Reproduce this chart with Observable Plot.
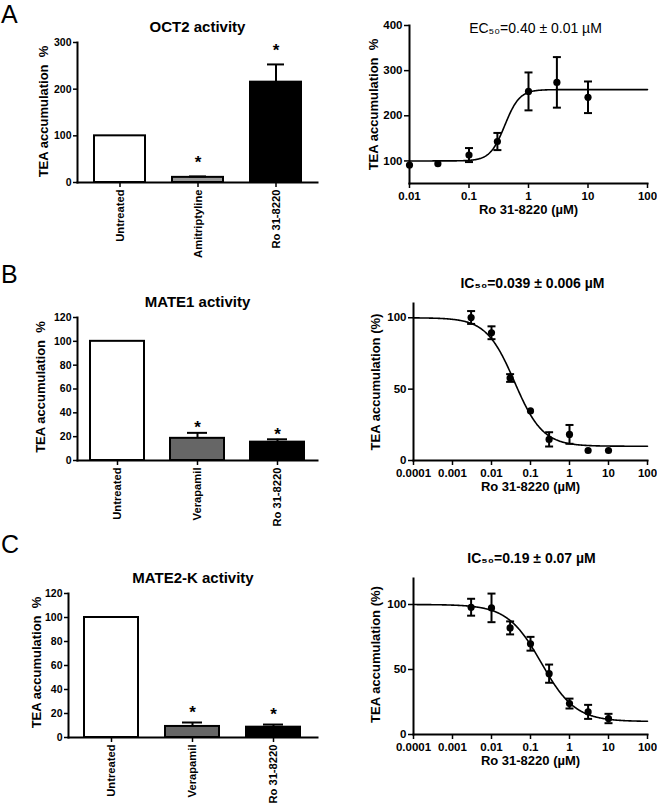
<!DOCTYPE html>
<html><head><meta charset="utf-8">
<script src="https://cdn.jsdelivr.net/npm/d3@7"></script>
<script src="https://cdn.jsdelivr.net/npm/@observablehq/plot@0.6"></script>
<style>
body{margin:0;background:#fff;}
#fig{position:relative;width:657px;height:804px;background:#fff;font-family:"Liberation Sans",Arial,Helvetica,sans-serif;overflow:hidden;}
.letter{position:absolute;font-size:25px;line-height:1;color:#000;font-family:"Liberation Sans",Arial,sans-serif;}
</style></head><body><div id="fig"></div>
<script>
// ---------- Data ----------
// Panel A bars: OCT2 activity
const barCatsA = ["Untreated", "Amitriptyline", "Ro 31-8220"];
const barValsA = [100, 11, 215];
const barErrsA = [0, 2, 38];
const barFillsA = ["#ffffff", "#9a9a9a", "#000000"];
const barStarsA = ["Amitriptyline", "Ro 31-8220"];
const barTicksA = [0, 100, 200, 300];

// Panel B bars: MATE1 activity
const barCatsB = ["Untreated", "Verapamil", "Ro 31-8220"];
const barValsB = [100, 18.6, 15.4];
const barErrsB = [0, 4.6, 2.4];
const barFillsB = ["#ffffff", "#666666", "#000000"];
const barStarsB = ["Verapamil", "Ro 31-8220"];
const barTicksB = [0, 20, 40, 60, 80, 100, 120];

// Panel C bars: MATE2-K activity
const barCatsC = ["Untreated", "Verapamil", "Ro 31-8220"];
const barValsC = [100, 9.2, 8.6];
const barErrsC = [0, 3.3, 2.2];
const barFillsC = ["#ffffff", "#666666", "#000000"];
const barStarsC = ["Verapamil", "Ro 31-8220"];
const barTicksC = [0, 20, 40, 60, 80, 100, 120];

// Concentration-response points (µM, mean, ±error)
const concA = [0.01, 0.03, 0.1, 0.3, 1, 3, 10];
const meanA = [91, 94, 113, 143, 254, 274, 241];
const errA  = [0, 0, 15.5, 19, 42, 56, 35];
const fitA  = [100, 258, 0.40, 3.5];   // bottom, top, EC50, Hill slope (fitted curve)

const concB = [0.003, 0.01, 0.03, 0.1, 0.3, 1, 3, 10];
const meanB = [100.2, 89.5, 57.8, 34.7, 14.8, 18.3, 7, 7];
const errB  = [4.5, 4.5, 2.7, 0, 5, 6.6, 0, 0];
const fitB  = [10, 100, 0.039, 1.2];

const concC = [0.003, 0.01, 0.03, 0.1, 0.3, 1, 3, 10];
const meanC = [97.9, 97.4, 82, 69.8, 46.8, 23.8, 17.4, 12.3];
const errC  = [6.5, 11, 5, 5.3, 7, 3.8, 5.4, 3.6];
const fitC  = [10, 100, 0.19, 1.0];

const logTicksA = [0.01, 0.1, 1, 10, 100];
const logTicksBC = [0.0001, 0.001, 0.01, 0.1, 1, 10, 100];

// ---------- Rendering ----------
const FONT = "'Liberation Sans', Arial, Helvetica, sans-serif";
const fig = document.getElementById("fig");
const baseStyle = {fontFamily: FONT, fontWeight: "bold", color: "#000", background: "transparent", overflow: "visible"};

function mount(el, left, top) {
  el.style.position = "absolute";
  el.style.left = left + "px";
  el.style.top = top + "px";
  fig.appendChild(el);
}
function letter(t, left, top) {
  const d = document.createElement("div");
  d.className = "letter"; d.textContent = t;
  d.style.left = left + "px"; d.style.top = top + "px";
  fig.appendChild(d);
}

function barPanel(c) {
  const rows = c.cats.map((cat, i) => ({cat, val: c.vals[i], err: c.errs[i], fill: c.fills[i]}));
  const errRows = rows.filter(d => d.err > 0);
  const starRows = rows.filter(d => c.stars.includes(d.cat));
  return Plot.plot({
    width: c.width, height: c.height,
    marginLeft: c.ml, marginRight: c.mr, marginTop: c.mt, marginBottom: c.mb,
    x: {type: "band", domain: c.cats, paddingInner: c.pi, paddingOuter: c.po},
    y: {domain: c.yDomain},
    color: {type: "identity"},
    style: baseStyle,
    marks: [
      Plot.barY(rows, {x: "cat", y: "val", fill: "fill", stroke: "#000", strokeWidth: 2}),
      Plot.ruleX(errRows, {x: "cat", y1: "val", y2: d => d.val + d.err, stroke: "#000", strokeWidth: 2}),
      Plot.tickY(errRows, {x: "cat", y: d => d.val + d.err, stroke: "#000", strokeWidth: 2, insetLeft: c.capInset, insetRight: c.capInset}),
      Plot.text(starRows, {x: "cat", y: d => d.val + d.err, text: () => "*", dy: c.starDy, fontSize: 17, fontWeight: "bold", fill: "#000"}),
      Plot.frame({anchor: "left", stroke: "#000", strokeWidth: 2}),
      Plot.frame({anchor: "bottom", stroke: "#000", strokeWidth: 2}),
      Plot.axisY({ticks: c.yTicks, tickSize: 4, tickPadding: 2, fontSize: 10.5, strokeWidth: 1.5, label: null}),
      Plot.axisX({tickRotate: -90, tickSize: 5, tickPadding: 2, fontSize: 11.2, strokeWidth: 1.5, label: null}),
      Plot.text([c.title], {text: d => d, frameAnchor: "top", textAnchor: "middle", dy: -21, fontSize: 15, fontWeight: "bold", fill: "#000"}),
      Plot.text([c.yLabel], {text: d => d, frameAnchor: "left", textAnchor: "middle", rotate: -90, dx: c.ylDx, dy: c.ylDy, fontSize: 13, fontWeight: "bold", fill: "#000"})
    ]
  });
}

const capSymbol = {draw(ctx, size) { const w = Math.sqrt(size / Math.PI); ctx.moveTo(-w, 0); ctx.lineTo(w, 0); }};

function curvePanel(c) {
  const pts = c.conc.map((x, i) => ({x, y: c.mean[i], e: c.err[i]}));
  const errPts = pts.filter(d => d.e > 0);
  const [bottom, top, mid, hill] = c.fit;
  const [lo, hi] = c.xDomain.map(Math.log10);
  // fitted four-parameter logistic curve (parameters)
  const curve = d3.range(0, 401).map(i => {
    const x = 10 ** (lo + (hi - lo) * i / 400);
    const y = c.rising
      ? bottom + (top - bottom) / (1 + (mid / x) ** hill)
      : bottom + (top - bottom) / (1 + (x / mid) ** hill);
    return {x, y};
  });
  return Plot.plot({
    width: c.width, height: c.height,
    marginLeft: c.ml, marginRight: c.mr, marginTop: c.mt, marginBottom: c.mb,
    x: {type: "log", domain: c.xDomain},
    y: {domain: c.yDomain},
    style: baseStyle,
    marks: [
      Plot.line(curve, {x: "x", y: "y", stroke: "#000", strokeWidth: 1.6}),
      Plot.ruleX(errPts, {x: "x", y1: d => d.y - d.e, y2: d => d.y + d.e, stroke: "#000", strokeWidth: 2}),
      Plot.dot(errPts, {x: "x", y: d => d.y + d.e, symbol: capSymbol, r: 4, fill: "none", stroke: "#000", strokeWidth: 2}),
      Plot.dot(errPts, {x: "x", y: d => d.y - d.e, symbol: capSymbol, r: 4, fill: "none", stroke: "#000", strokeWidth: 2}),
      Plot.dot(pts, {x: "x", y: "y", r: 3.6, fill: "#000", stroke: "none"}),
      Plot.frame({anchor: "left", stroke: "#000", strokeWidth: 2}),
      Plot.frame({anchor: "bottom", stroke: "#000", strokeWidth: 2}),
      Plot.axisY({ticks: c.yTicks, tickSize: 5, tickPadding: 2, fontSize: 11.5, strokeWidth: 1.5, label: null}),
      Plot.axisX({ticks: c.xTicks, tickFormat: d => String(d), tickSize: 5, tickPadding: 3, fontSize: 11.5, strokeWidth: 1.5, label: null}),
      Plot.text([c.title], {text: d => d, frameAnchor: "top", textAnchor: "middle", dx: c.tDx, dy: c.tDy, fontSize: 14, fontWeight: c.titleWeight, fill: "#000"}),
      Plot.text([c.xLabel], {text: d => d, frameAnchor: "bottom", textAnchor: "middle", dy: 30, fontSize: 13, fontWeight: "bold", fill: "#000"}),
      Plot.text([c.yLabel], {text: d => d, frameAnchor: "left", textAnchor: "middle", rotate: -90, dx: c.ylDx, dy: c.ylDy, fontSize: 13, fontWeight: "bold", fill: "#000"})
    ]
  });
}

const yLabBar = "TEA accumulation\u00a0\u00a0%";

mount(barPanel({
  cats: barCatsA, vals: barValsA, errs: barErrsA, fills: barFillsA, stars: barStarsA,
  yDomain: [0, 300], yTicks: barTicksA, title: "OCT2 activity", yLabel: yLabBar,
  width: 330, height: 260, ml: 77, mr: 13, mt: 42, mb: 78, pi: 0.35, po: 0.2,
  capInset: 17, starDy: -14, ylDx: -34, ylDy: -1
}), 0, 0);

mount(curvePanel({
  conc: concA, mean: meanA, err: errA, fit: fitA, rising: true,
  xDomain: [0.01, 100], xTicks: logTicksA, yDomain: [50, 400], yTicks: [100, 200, 300, 400],
  title: "EC\u2085\u2080=0.40 \u00b1 0.01 \u00b5M", titleWeight: "normal", tDx: 7, tDy: -2,
  xLabel: "Ro 31-8220 (\u00b5M)", yLabel: "TEA accumulation\u00a0\u00a0%",
  width: 327, height: 260, ml: 79, mr: 10, mt: 25, mb: 77, ylDx: -36, ylDy: 0
}), 330, 0);

mount(barPanel({
  cats: barCatsB, vals: barValsB, errs: barErrsB, fills: barFillsB, stars: barStarsB,
  yDomain: [0, 120], yTicks: barTicksB, title: "MATE1 activity", yLabel: yLabBar,
  width: 330, height: 270, ml: 77, mr: 13, mt: 57, mb: 70, pi: 0.33, po: 0.15,
  capInset: 17, starDy: -5, ylDx: -37, ylDy: -2
}), 0, 260);

mount(curvePanel({
  conc: concB, mean: meanB, err: errB, fit: fitB, rising: false,
  xDomain: [0.0001, 100], xTicks: logTicksBC, yDomain: [0, 110], yTicks: [0, 50, 100],
  title: "IC\u2085\u2080=0.039 \u00b1 0.006 \u00b5M", titleWeight: "bold", tDx: 2, tDy: -25,
  xLabel: "Ro 31-8220 (\u00b5M)", yLabel: "TEA accumulation (%)",
  width: 327, height: 270, ml: 83, mr: 10, mt: 43, mb: 70, ylDx: -38, ylDy: 0
}), 330, 260);

mount(barPanel({
  cats: barCatsC, vals: barValsC, errs: barErrsC, fills: barFillsC, stars: barStarsC,
  yDomain: [0, 120], yTicks: barTicksC, title: "MATE2-K activity", yLabel: yLabBar,
  width: 330, height: 274, ml: 68, mr: 13, mt: 63, mb: 67, pi: 0.33, po: 0.2,
  capInset: 17, starDy: -10, ylDx: -32, ylDy: -3
}), 0, 530);

mount(curvePanel({
  conc: concC, mean: meanC, err: errC, fit: fitC, rising: false,
  xDomain: [0.0001, 100], xTicks: logTicksBC, yDomain: [0, 120], yTicks: [0, 50, 100],
  title: "IC\u2085\u2080=0.19 \u00b1 0.07 \u00b5M", titleWeight: "bold", tDx: 1, tDy: -25,
  xLabel: "Ro 31-8220 (\u00b5M)", yLabel: "TEA accumulation (%)",
  width: 327, height: 274, ml: 83, mr: 10, mt: 48, mb: 70, ylDx: -38, ylDy: -2
}), 330, 530);

letter("A", 1, 2);
letter("B", 1, 262);
letter("C", 1, 532);
</script></body></html>
